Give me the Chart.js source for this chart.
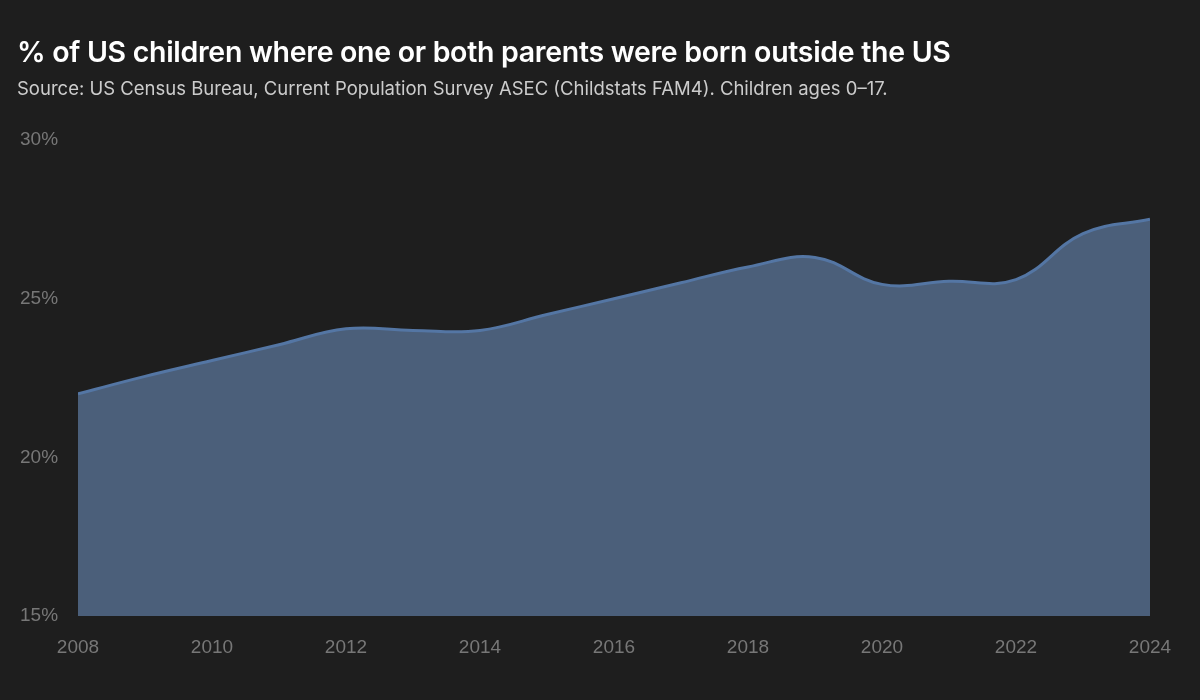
<!DOCTYPE html>
<html>
<head>
<meta charset="utf-8">
<script src="https://cdn.jsdelivr.net/npm/chart.js@4"></script>
<style>
  html, body { margin: 0; padding: 0; background: #1e1e1e; }
  #wrap { position: relative; width: 1200px; height: 700px; }
  #title { position: absolute; left: 17px; top: 34px; font-family: Inter, "Noto Sans", sans-serif; font-weight: 600; font-size: 28.5px; color: #ffffff; letter-spacing: -0.3px; }
  #sub { position: absolute; left: 17px; top: 77px; font-family: Inter, "Noto Sans", sans-serif; font-size: 18.5px; color: #cccccc; }
  canvas { position: absolute; left: 0; top: 0; }
</style>
</head>
<body>
<div id="wrap">
  <canvas id="myChart" width="1200" height="700"></canvas>
  <div id="title">% of US children where one or both parents were born outside the US</div>
  <div id="sub">Source: US Census Bureau, Current Population Survey ASEC (Childstats FAM4). Children ages 0–17.</div>
</div>
<script>
  // años y porcentaje estimado
  const years = [2008, 2009, 2010, 2011, 2012, 2013, 2014, 2015, 2016, 2017, 2018, 2019, 2020, 2021, 2022, 2023, 2024];
  const share = [22.0, 22.55, 23.05, 23.55, 24.05, 24.0, 24.0, 24.5, 25.0, 25.5, 26.0, 26.3, 25.45, 25.55, 25.6, 27.05, 27.5];
  const yTicks = [15, 20, 25, 30];
  const xTicks = [2008, 2010, 2012, 2014, 2016, 2018, 2020, 2022, 2024];

  const ctx = document.getElementById('myChart').getContext('2d');

  const myChart = new Chart(ctx, {
    type: 'line',
    data: {
      datasets: [{
        data: years.map((y, i) => ({ x: y, y: share[i] })),
        borderColor: '#5476a4',
        backgroundColor: '#4b5f7a',
        borderWidth: 3,
        fill: 'start',
        tension: 0.4,
        pointRadius: 0
      }]
    },
    options: {
      responsive: false,
      animation: false,
      layout: { padding: { left: 20, right: 50, top: 140, bottom: 0 } },
      plugins: { legend: { display: false }, tooltip: { enabled: false } },
      scales: {
        x: {
          type: 'linear',
          min: 2008,
          max: 2024,
          grid: { display: false },
          border: { display: false },
          afterBuildTicks: s => { s.ticks = xTicks.map(v => ({ value: v })); },
          afterFit: s => { s.height = 84; },
          ticks: {
            color: '#777777',
            padding: 12,
            maxRotation: 0,
            font: { family: 'Liberation Sans', size: 19 },
            callback: v => String(v)
          }
        },
        y: {
          min: 15,
          max: 30,
          grid: { display: false },
          border: { display: false },
          afterBuildTicks: s => { s.ticks = yTicks.map(v => ({ value: v })); },
          afterFit: s => { s.width = 58; },
          ticks: {
            color: '#777777',
            crossAlign: 'far',
            font: { family: 'Liberation Sans', size: 19 },
            callback: v => v + '%'
          }
        }
      }
    }
  });
</script>
</body>
</html>
